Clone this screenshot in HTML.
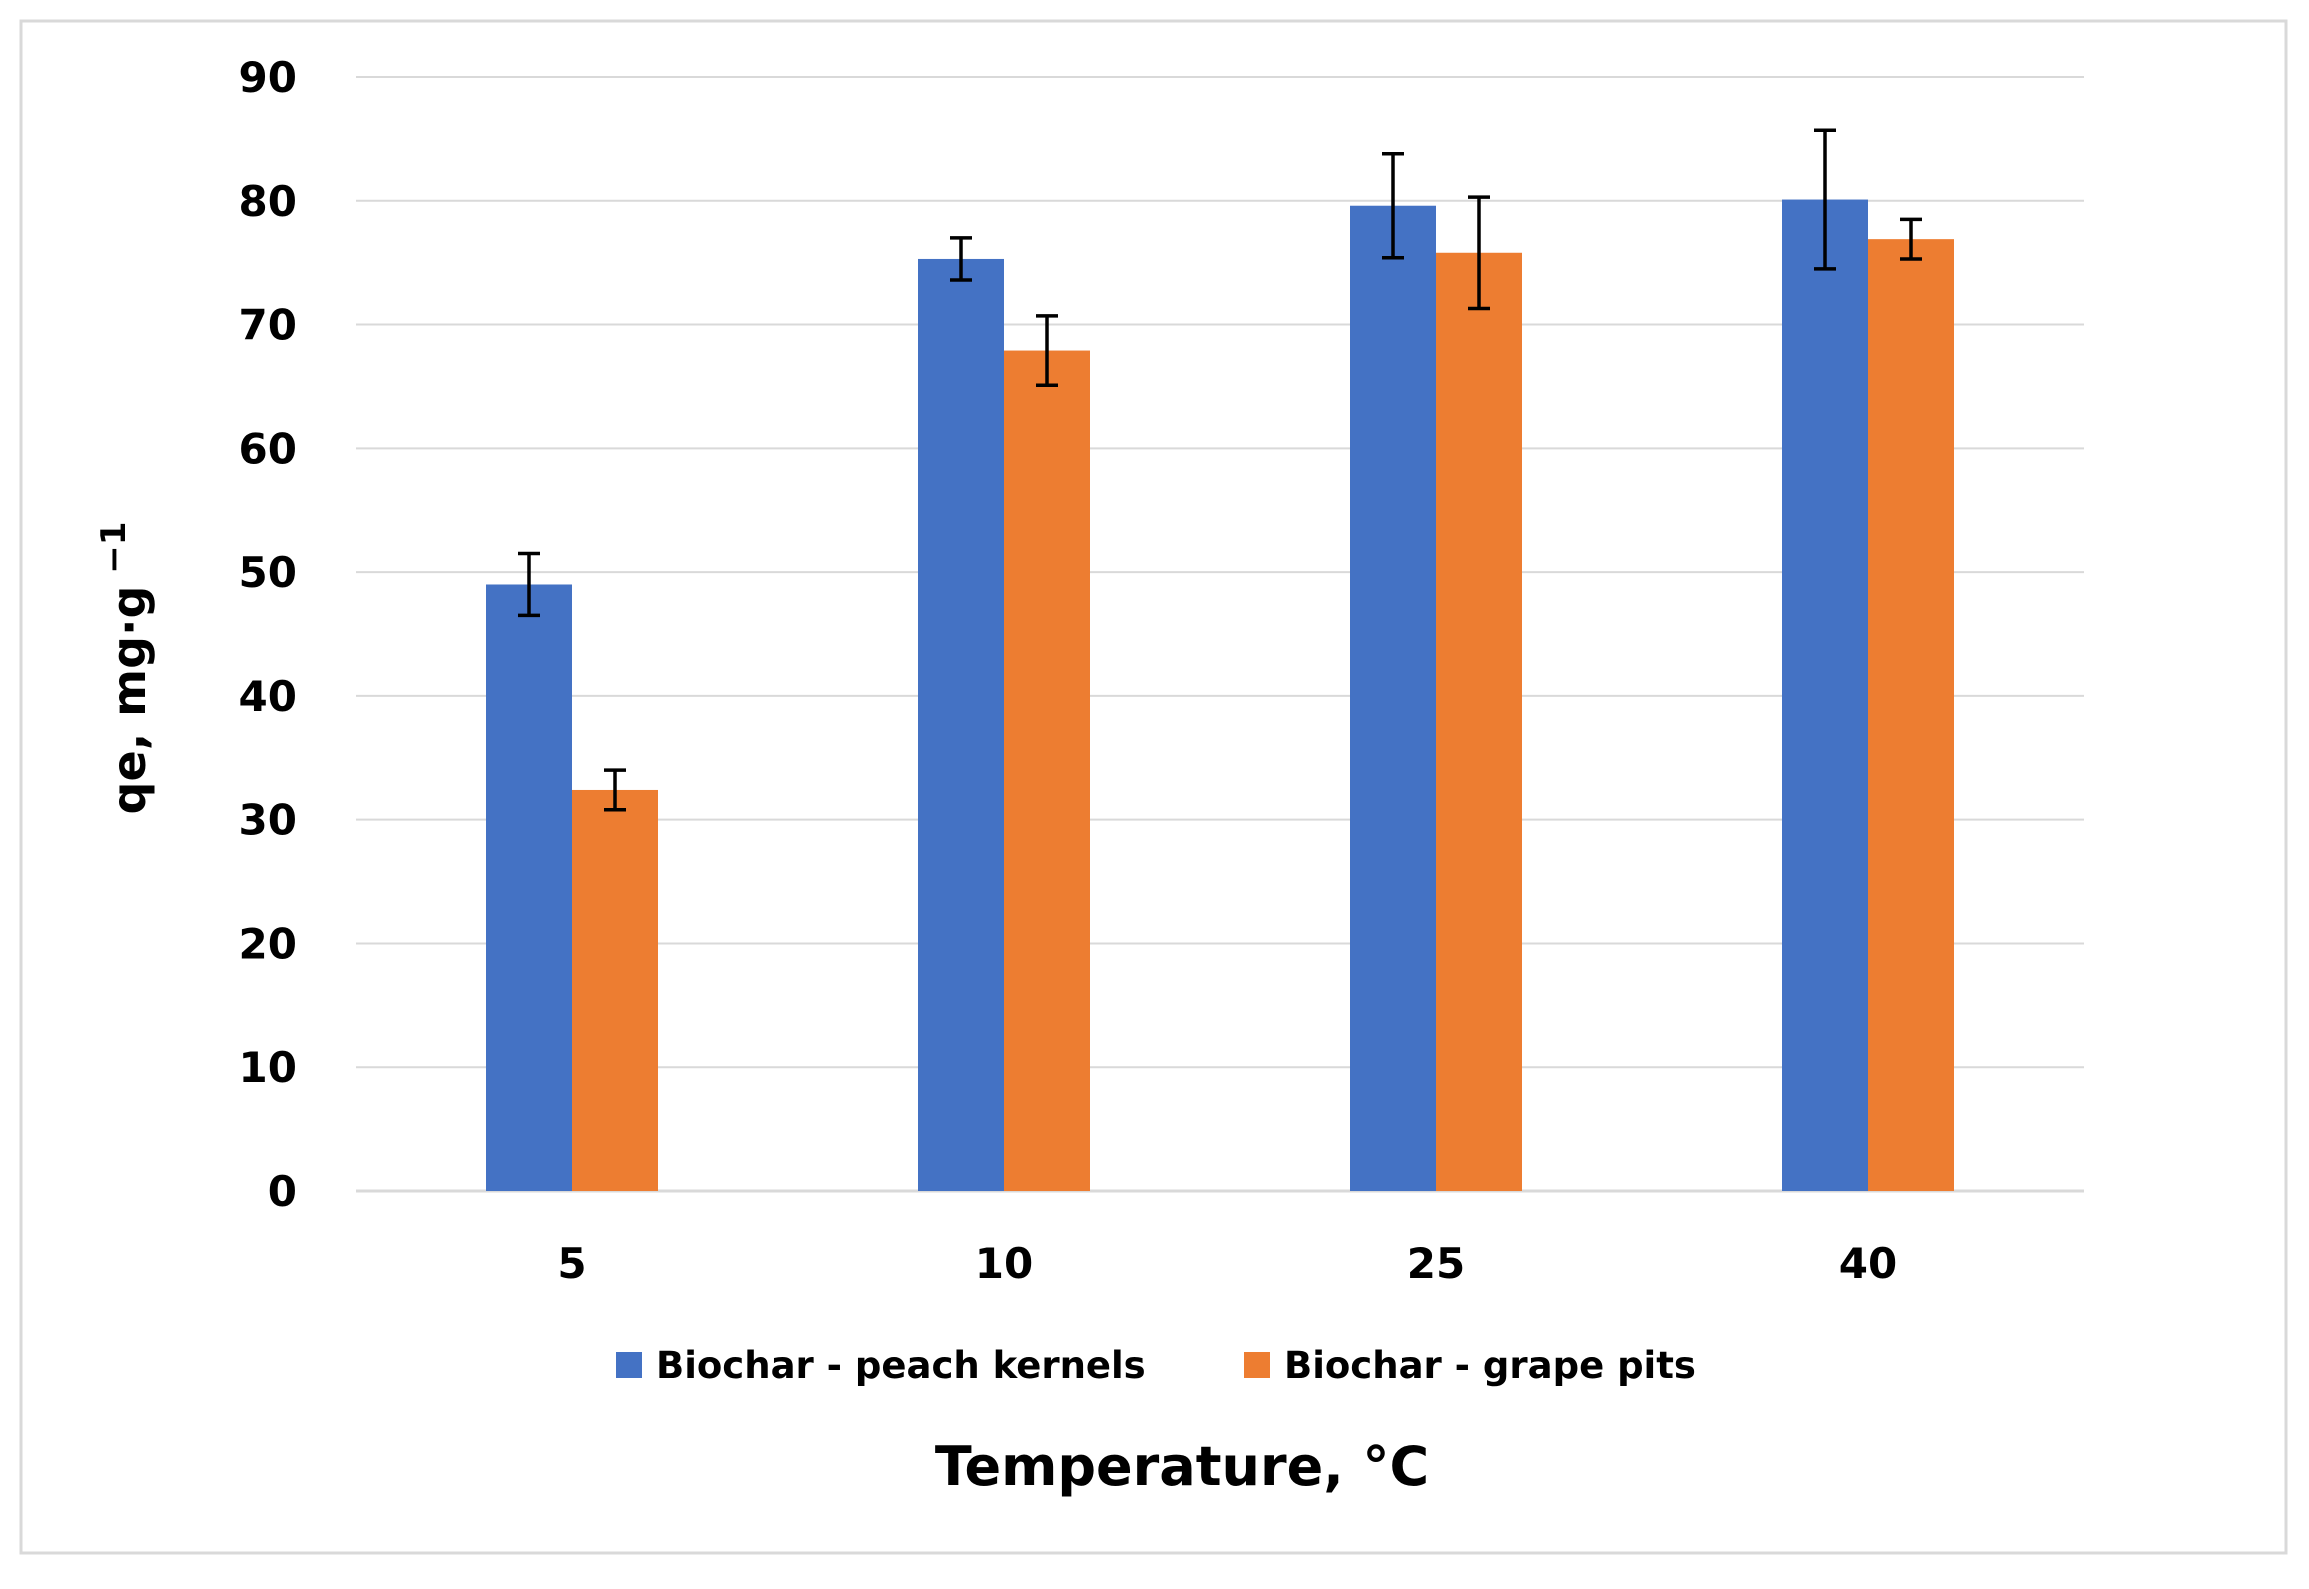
<!DOCTYPE html>
<html><head><meta charset="utf-8"><style>
html,body{margin:0;padding:0;background:#fff;}
svg{display:block;font-family:"DejaVu Sans","Liberation Sans",sans-serif;font-weight:bold;}
</style></head><body>
<svg id="chart" width="2309" height="1589" viewBox="0 0 2309 1589">
<rect x="21" y="21" width="2265" height="1532" fill="#fff" stroke="#d9d9d9" stroke-width="3"/>
<g id="grid"></g><g id="bars"></g><g id="errs"></g><g id="ylabels"></g><g id="xlabels"></g>
<text x="145" y="668" transform="rotate(-90 145 668)" text-anchor="middle" font-size="46" fill="#000">qe,  mg·g<tspan dy="-20" font-size="34"> −1</tspan></text>
<rect x="616" y="1352" width="26" height="26" fill="#4472c4"/>
<text x="656" y="1378" font-size="37" fill="#000">Biochar - peach kernels</text>
<rect x="1244" y="1352" width="26" height="26" fill="#ed7d31"/>
<text x="1284" y="1378" font-size="37" fill="#000">Biochar - grape pits</text>
<text x="1182" y="1485" text-anchor="middle" font-size="54" fill="#000">Temperature, °C</text>
</svg>
<script>
const categories=["5","10","25","40"];
const peachValues=[49,75.3,79.6,80.1];
const peachErrors=[2.5,1.7,4.2,5.6];
const grapeValues=[32.4,67.9,75.8,76.9];
const grapeErrors=[1.6,2.8,4.5,1.6];
const yTicks=[0,10,20,30,40,50,60,70,80,90];
const NS="http://www.w3.org/2000/svg";
const L=356,R=2084,Y0=1191,Y90=77;
const y=v=>Y0-(v/90)*(Y0-Y90);
const bw=(R-L)/categories.length;
const x=i=>L+bw*(i+0.5);
function mk(t,a){const e=document.createElementNS(NS,t);for(const k in a)e.setAttribute(k,a[k]);return e;}
const grid=document.getElementById('grid'),bars=document.getElementById('bars'),errs=document.getElementById('errs');
yTicks.forEach(v=>{
 const l=mk('line',{x1:L,x2:R,y1:y(v),y2:y(v),stroke:'#d9d9d9','stroke-width':v===0?3:2});
 
 
 grid.appendChild(l);
 const t=mk('text',{x:297,y:y(v)+15,'text-anchor':'end','font-size':42,fill:'#000'});
 t.textContent=v;
 
 
 document.getElementById('ylabels').appendChild(t);
});
const W=86;
function drawSeries(vals,errsArr,off,color,name){
 vals.forEach((v,i)=>{
  const cx=x(i)+off;
  const r=mk('rect',{x:cx-W/2,y:y(v),width:W,height:Y0-y(v),fill:color});
  
  
  bars.appendChild(r);
  const e=errsArr[i];
  const g=mk('path',{d:`M${cx} ${y(v+e)}V${y(v-e)}M${cx-11} ${y(v+e)}H${cx+11}M${cx-11} ${y(v-e)}H${cx+11}`,stroke:'#000','stroke-width':3.5,fill:'none'});
  
  
  errs.appendChild(g);
 });
}
drawSeries(peachValues,peachErrors,-W/2,'#4472c4','peach');
drawSeries(grapeValues,grapeErrors,W/2,'#ed7d31','grape');
categories.forEach((c,i)=>{
 const t=mk('text',{x:x(i),y:1278,'text-anchor':'middle','font-size':42,fill:'#000'});
 t.textContent=c;
 
 
 document.getElementById('xlabels').appendChild(t);
});
</script>
</body></html>
